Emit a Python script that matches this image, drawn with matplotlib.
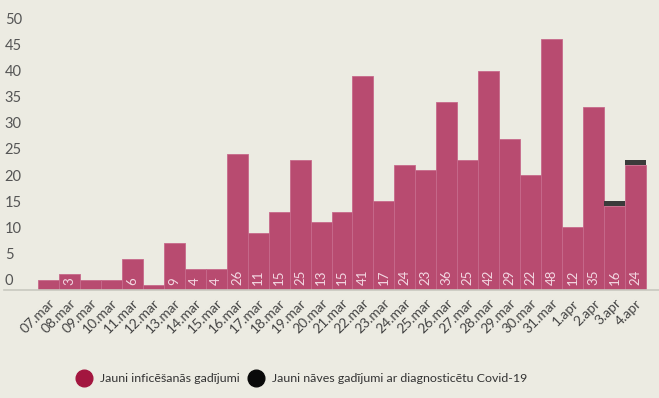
import numpy as np
import matplotlib
matplotlib.use("Agg")
import matplotlib.pyplot as plt
from matplotlib.lines import Line2D

plt.rcParams['font.family'] = ['Lato', 'DejaVu Sans']

dates = ['07.mar', '08.mar', '09.mar', '10.mar', '11.mar', '12.mar', '13.mar',
         '14.mar', '15.mar', '16.mar', '17.mar', '18.mar', '19.mar', '20.mar',
         '21.mar', '22.mar', '23.mar', '24.mar', '25.mar', '26.mar', '27.mar',
         '28.mar', '29.mar', '30.mar', '31.mar', '1.apr', '2.apr', '3.apr', '4.apr']
infected = [2, 3, 2, 2, 6, 1, 9, 4, 4, 26, 11, 15, 25, 13, 15, 41, 17, 24, 23,
            36, 25, 42, 29, 22, 48, 12, 35, 16, 24]
deaths = [0, 0, 0, 0, 0, 0, 0, 0, 0, 0, 0, 0, 0, 0, 0, 0, 0, 0, 0,
          0, 0, 0, 0, 0, 0, 0, 0, 1, 1]
yticks = [0, 5, 10, 15, 20, 25, 30, 35, 40, 45, 50]

bg = '#ecebe2'
pink = '#b84b70'
dark = '#3b3b3b'

fig = plt.figure(figsize=(6.59, 3.98), dpi=100, facecolor=bg)
ax = fig.add_axes([4/659, 108/398, 655/659, 290/398])
ax.set_facecolor(bg)

x = np.arange(len(dates))
ax.bar(x, infected, width=1.0, color=pink, edgecolor='#c7698b', linewidth=0.6)
ax.bar(x, deaths, width=1.0, bottom=infected, color=dark, linewidth=0)

ax.set_xlim(-2.12, 29.12)
ax.set_ylim(0, 290/5.22)

for s in ax.spines.values():
    s.set_visible(False)
ax.axhline(0, color='#c9c9c0', linewidth=1.2, clip_on=False)

ax.set_yticks([])
for v in yticks:
    ax.annotate(str(v), xy=(0, v), xycoords=('axes fraction', 'data'),
                xytext=(0.5, 6.5), textcoords='offset points', ha='left', va='center',
                fontsize=10.5, color='#555555')

ax.set_xticks(x)
ax.set_xticklabels(dates, rotation=45, ha='right', va='top',
                   rotation_mode='anchor', fontsize=10, color='#444444')
ax.tick_params(axis='x', length=0, pad=5)

# value labels inside bars
for i, v in enumerate(infected):
    if v >= 3:
        ax.text(i, 0.9, str(v), rotation=90, ha='center', va='bottom',
                fontsize=9.5, color='#f3d9e3')

# legend
ly = 1 - 378/398
fig.add_artist(Line2D([83.5/659], [ly], marker='o', markersize=12,
                      color='#a3163f', linestyle='none', transform=fig.transFigure))
fig.text(100/659, ly, 'Jauni inficēšanās gadījumi', ha='left', va='center',
         fontsize=8.9, color='#333333')
fig.add_artist(Line2D([256/659], [ly], marker='o', markersize=12,
                      color='#0a0a0a', linestyle='none', transform=fig.transFigure))
fig.text(272/659, ly, 'Jauni nāves gadījumi ar diagnosticētu Covid-19',
         ha='left', va='center', fontsize=8.9, color='#333333')

fig.savefig('out.png', dpi=100, facecolor=bg)
